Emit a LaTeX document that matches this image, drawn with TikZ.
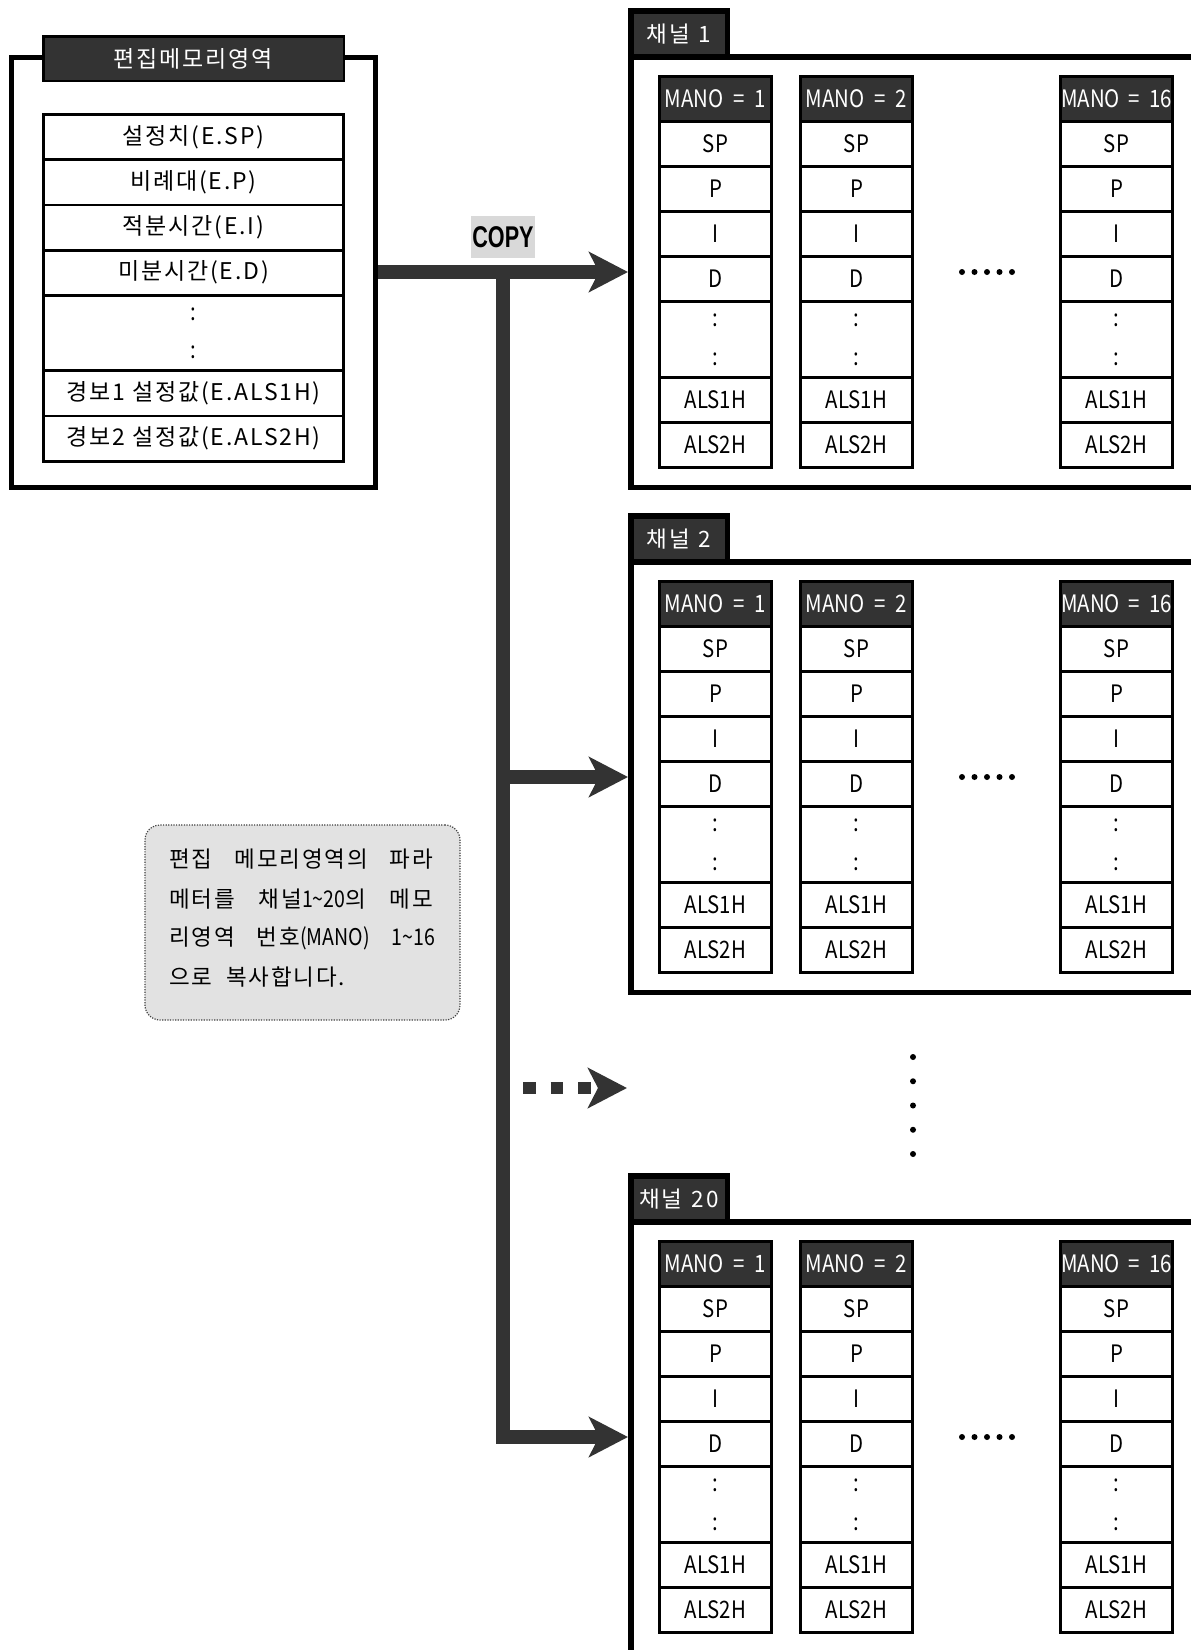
\documentclass[tikz,border=0pt]{standalone}
\usepackage{fontspec}
\setmainfont{Noto Sans CJK KR}
\newfontfamily\kr{Noto Sans CJK KR}[LetterSpace=8]
\newfontfamily\lat{Noto Sans CJK KR}[FakeStretch=0.85]
\newfontfamily\copyf{Liberation Sans}[FakeStretch=0.72]
\usetikzlibrary{arrows.meta}
\definecolor{dk}{HTML}{333333}
\definecolor{cpbg}{HTML}{D9D9D9}
\definecolor{notebg}{HTML}{E2E2E2}
\tikzset{
 lframe/.style={draw=black, line width=5pt, minimum width=364pt, minimum height=430pt, inner sep=0pt},
 lhdr/.style={draw=black, fill=dk, line width=2.5pt, minimum width=300.5pt, minimum height=44.5pt, inner sep=0pt, text=white, font=\kr\fontsize{23}{25}\selectfont},
 lrow/.style={draw=black, line width=2.8pt, minimum width=300.5pt, minimum height=45.2pt, inner sep=0pt, outer sep=0pt, font=\kr\fontsize{23}{25}\selectfont},
 colon/.style={inner sep=0pt, font=\lat\fontsize{24}{26}\selectfont},
 tabbox/.style={draw=black, fill=dk, line width=5.5pt, minimum width=96.5pt, minimum height=46pt, inner sep=0pt, text=white, font=\kr\fontsize{22.5}{24}\selectfont},
 chframe/.style={draw=black, line width=5.5pt, minimum width=669.25pt, minimum height=430.5pt, inner sep=0pt},
 mhdr/.style={draw=black, fill=dk, line width=2.8pt, minimum width=112pt, minimum height=45pt, inner sep=0pt, outer sep=0pt, text=white, font=\lat\fontsize{24}{26}\selectfont},
 mcell/.style={draw=black, line width=2.8pt, minimum width=112pt, minimum height=45pt, inner sep=0pt, outer sep=0pt, font=\lat\fontsize{24}{26}\selectfont},
 bigarrow/.style={draw=dk, line width=13.5pt, -{Stealth[length=39pt, width=40pt, inset=10pt]}},
 dasharrow/.style={draw=dk, line width=12.5pt, dash pattern=on 12.5pt off 15pt, -{Stealth[length=39pt, width=40pt, inset=10pt]}},
 notebox/.style={draw=black!75, fill=notebg, line width=1.2pt, dash pattern=on 1.2pt off 1.4pt, rounded corners=15pt, minimum width=315pt, minimum height=195pt, inner sep=0pt},
 noteline/.style={anchor=west, inner sep=0pt, font=\kr\fontsize{22.5}{24}\selectfont},
 copybox/.style={fill=cpbg, minimum width=64pt, minimum height=42pt, inner sep=0pt, font=\copyf\bfseries\fontsize{30}{30}\selectfont},
}
\newcommand\memcol[3]{%
 \node[mhdr] (#1-h) at (#2,99) {#3};
 \node[mcell] (#1-s) at (#2,144) {SP};
 \node[mcell] (#1-p) at (#2,189) {P};
 \node[mcell] (#1-i) at (#2,234) {I};
 \node[mcell] (#1-d) at (#2,279) {D};
 \node[mcell,minimum height=76pt] (#1-x) at (#2,339.5) {};
 \node[colon] (#1-c) at (#2,320) {:};
 \node[colon] (#1-e) at (#2,359) {:};
 \node[mcell] (#1-a) at (#2,400) {ALS1H};
 \node[mcell] (#1-b) at (#2,445) {ALS2H};
}
\newcommand\chan[3]{%
 \begin{scope}[shift={(0,#2)}]
 \node[chframe] (ch#1) at (965.375,272) {};
 \node[tabbox] (tab#1) at (679,33.75) {채널\hspace{9pt}#3};
 \memcol{ch#1a}{715.5}{MANO\hspace{10pt}=\hspace{10pt}1}
 \memcol{ch#1b}{856.5}{MANO\hspace{10pt}=\hspace{10pt}2}
 \memcol{ch#1z}{1116.5}{MANO\hspace{9pt}=\hspace{9pt}16}
 \foreach \k in {0,...,4} \fill[black] (962+12.5*\k,272) circle (3pt);
 \end{scope}
}
\begin{document}
\begin{tikzpicture}[x=1pt,y=-1pt]
\useasboundingbox (0,0) rectangle (1191,1650);
\clip (0,0) rectangle (1191,1650);
\fill[white] (0,0) rectangle (1191,1650);

% left edit memory box
\node[lframe] (lbox) at (193.5,272) {};
\node[lhdr] (lh) at (193.5,58.5) {편집메모리영역};
\node[lrow] (r1) at (193.5,137.1) {설정치(E.SP)};
\node[lrow] (r2) at (193.5,182.3) {비례대(E.P)};
\node[lrow] (r3) at (193.5,227.5) {적분시간(E.I)};
\node[lrow] (r4) at (193.5,272.7) {미분시간(E.D)};
\node[lrow,minimum height=75.4pt] (r5) at (193.5,333) {};
\node[colon] (r5a) at (193.5,314) {:};
\node[colon] (r5b) at (193.5,352) {:};
\node[lrow] (r6) at (193.5,393.3) {경보1 설정값(E.ALS1H)};
\node[lrow] (r7) at (193.5,438.5) {경보2 설정값(E.ALS2H)};

% channels
\chan{1}{0}{1}
\chan{2}{505}{2}
\chan{20}{1165}{20}

% arrows
\coordinate (j) at (503,272);
\draw[bigarrow] (lbox.east) -- (ch1.west);
\draw[bigarrow] (j) |- (ch20.west);
\draw[bigarrow] (j |- ch2.west) -- (ch2.west);
\coordinate (d0) at (523,1088);
\coordinate (d1) at (627,1088);
\draw[dasharrow] (d0) -- (d1);
\node[copybox] (copy) at (503,237) {COPY};

% vertical dots
\foreach \k in {0,...,4} \fill[black] (913,1057+24.25*\k) circle (3pt);

% note
\node[notebox] (note) at (302.5,922.5) {};
\node[noteline] (n1) at (169,859) {\makebox[264pt][s]{편집 메모리영역의 파라}};
\node[noteline] (n2) at (169,899) {\makebox[264pt][s]{메터를 채널{\lat\fontsize{23}{24}\selectfont 1\textasciitilde20}의 메모}};
\node[noteline] (n3) at (169,938) {\makebox[266pt][s]{리영역 번호{\lat\fontsize{23}{24}\selectfont(MANO)} {\lat\fontsize{23}{24}\selectfont 1\textasciitilde16}}};
\node[noteline] (n4) at (169,977) {으로\hspace{14pt}복사합니다.};
\end{tikzpicture}
\end{document}
